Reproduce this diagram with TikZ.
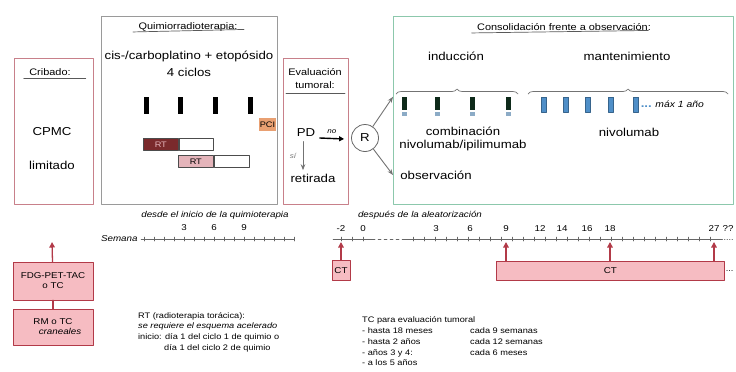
\documentclass[tikz,border=0pt]{standalone}
\usepackage{fontspec}
\setmainfont{Liberation Sans}[FakeStretch=1.15]
\usetikzlibrary{arrows.meta,decorations.pathreplacing,positioning}
\definecolor{PanelRed}{HTML}{C8808A}
\definecolor{PanelGrey}{HTML}{9A9A9A}
\definecolor{PanelGreen}{HTML}{8CC8AC}
\definecolor{ScanRed}{HTML}{B23A48}
\definecolor{ScanFill}{HTML}{F6BCC2}
\definecolor{RtDark}{HTML}{7A2A2C}
\definecolor{RtLight}{HTML}{E4B4BA}
\definecolor{PciOrange}{HTML}{E9A072}
\definecolor{DoseBlue}{HTML}{4F8FC8}
\definecolor{DoseGreen}{HTML}{0E2A1A}
\newcommand{\smalltxt}{\fontsize{8}{10.8}\selectfont}
\newcommand{\axistxt}{\fontsize{8.5}{10}\selectfont}
\newcommand{\titletxt}{\fontsize{9.5}{13}\selectfont}
\tikzset{
  panel/.style={draw=#1,line width=0.8pt,anchor=north west,inner sep=0pt},
  headline/.style={draw=black!65,line width=0.7pt},
  chemo/.style={fill=black,minimum width=5pt,minimum height=17pt,inner sep=0pt},
  ipi/.style={fill=DoseGreen,minimum width=5pt,minimum height=13pt,inner sep=0pt},
  nivo/.style={fill=DoseBlue,draw=DoseBlue!70!black,line width=0.3pt,minimum width=5pt,minimum height=15pt,inner sep=0pt},
  rtpart/.style={draw=black!70,line width=0.6pt,minimum height=12pt,inner sep=0pt,anchor=north west,font=\smalltxt},
  scan/.style={draw=ScanRed,fill=ScanFill,line width=0.6pt,inner sep=0pt,font=\axistxt},
  scanarrow/.style={ScanRed,line width=1.3pt,-{Triangle[width=5.5pt,length=5.5pt]}},
  greyarrow/.style={black!55,line width=0.9pt,-{Stealth[length=6pt]}},
  axistick/.style={black!60,line width=0.5pt},
  notetext/.style={font=\smalltxt,anchor=north west,inner sep=0pt,align=left}
}
\begin{document}
\begin{tikzpicture}[x=1pt,y=-1pt,line cap=round,line join=round,font=\fontsize{11.5}{13.5}\selectfont]
  \useasboundingbox (0,0) rectangle (736,372);

  % panels
  \node[panel=PanelRed,minimum width=79pt,minimum height=146pt] (crib) at (14,58) {};
  \node[panel=PanelGrey,minimum width=176pt,minimum height=188pt] (quim) at (101,16) {};
  \node[panel=PanelRed,minimum width=65pt,minimum height=146pt] (eval) at (283,58) {};
  \node[panel=PanelGreen,minimum width=340pt,minimum height=188pt] (cons) at (393,16) {};

  % cribado
  \node[font=\titletxt] (cribT) at (50,72) {Cribado:};
  \draw[headline] ([xshift=-2pt]cribT.base west) ++(0,2.5) -- ++(62,0);
  \node (cpmc) at (52,132) {CPMC};
  \node (lim) at (52,165) {limitado};

  % quimiorradioterapia
  \node[font=\titletxt] (quimT) at (188,27) {Quimiorradioterapia:};
  \draw[headline] ([xshift=-2pt]quimT.base west) ++(0,2.5) -- ([xshift=3pt]quimT.base east) ++(0,2.5);
  \node (chemoT) at (189,56) {cis-/carboplatino + etopósido};
  \node (cyc) at (189,72) {4 ciclos};
  \foreach \x [count=\i] in {146,180,215,250}
    \node[chemo] (c\i) at (\x,105.5) {};
  \node[scan,draw=none,fill=PciOrange,minimum width=17pt,minimum height=13pt,font=\smalltxt] (pci) at (267.5,124.5) {PCI};
  \node[rtpart,fill=RtDark,text=RtLight,minimum width=35pt] (rtA) at (143,138) {RT};
  \node[rtpart,fill=white,minimum width=34pt,anchor=west] (rtAr) at (rtA.east) {};
  \node[rtpart,fill=RtLight,minimum width=35pt] (rtB) at (178,155) {RT};
  \node[rtpart,fill=white,minimum width=35pt,anchor=west] (rtBr) at (rtB.east) {};

  % evaluacion tumoral
  \node[align=center,font=\titletxt] (evalT) at (315,79) {Evaluación\\tumoral:};
  \draw[headline] (286,93) -- (345,93);
  \node (pd) at (306,133) {PD};
  \node (ret) at (313,178) {retirada};
  \node[circle,draw=black!60,line width=0.8pt,minimum size=27pt,inner sep=0pt] (R) at (365,138) {R};
  \draw[line width=1.4pt,-{Triangle[width=5pt,length=5pt]}] (pd.east) ++(1,5) -- ([xshift=-7pt,yshift=-1pt]R.west) node[midway,above=1pt,font=\itshape\fontsize{7}{8}\selectfont] {no};
  \draw[greyarrow] ([xshift=-3pt,yshift=-1pt]pd.south) -- ([xshift=-10pt]ret.north) node[midway,left=3pt,font=\itshape\fontsize{7}{8}\selectfont] {sí};

  % consolidacion
  \node[font=\titletxt] (consT) at (564,27) {Consolidación frente a observación:};
  \draw[headline] ([xshift=-2pt]consT.base west) ++(0,2.5) -- ([xshift=-6pt]consT.base east) ++(0,2.5);
  \node (ind) at (456,56) {inducción};
  \node (mant) at (627,56) {mantenimiento};
  \draw[black!55,line width=0.7pt,decorate,decoration={brace,amplitude=5pt}] (396,94) -- (518,94);
  \draw[black!55,line width=0.7pt,decorate,decoration={brace,amplitude=5pt}] (528,94) -- (728,94);
  \foreach \x [count=\i] in {404,437,472,508}{
    \node[ipi] (ip\i) at (\x,103.5) {};
    \fill[DoseBlue!80!black!60] (\x-2.5,112) rectangle (\x+2.5,115.5);
  }
  \foreach \x [count=\i] in {544,566,588,611,636}
    \node[nivo] (nv\i) at (\x,104.5) {};
  \node[anchor=west,inner sep=0pt] (max) at (nv5.east) {\,\textcolor{DoseBlue}{\textbf{...}}\ \textit{\fontsize{9}{10}\selectfont máx 1 año}};
  \node[align=center] (comb) at (463,139) {combinación\\nivolumab/ipilimumab};
  \node (nivoT) at (629,132) {nivolumab};
  \node (obs) at (436,175) {observación};
  \draw[greyarrow] (R) -- (cons.west |- ip1.north);
  \draw[greyarrow] (R) -- (cons.west |- obs);

  % linea temporal de quimioterapia
  \node[font=\itshape\axistxt] (desde) at (215,215) {desde el inicio de la quimioterapia};
  \node[font=\itshape\axistxt,anchor=east] (sem) at (141,239) {Semana};
  \draw[axistick] (sem.east) -- (294,239);
  \foreach \k in {-1,...,14}
    \draw[axistick] (154+10*\k,237) -- (154+10*\k,241);
  \foreach \k in {3,6,9}
    \node[font=\axistxt] (wq\k) at (154+10*\k,228) {\k};

  % linea temporal tras aleatorizacion
  \node[font=\itshape\axistxt] (desp) at (420,215) {después de la aleatorización};
  \coordinate (axA) at (333,239);
  \coordinate (axB) at (372,239);
  \coordinate (axC) at (405,239);
  \coordinate (axD) at (722,239);
  \coordinate (axE) at (734,239);
  \draw[axistick] (axA) -- (axB);
  \draw[axistick,dashed] (axB) -- (axC);
  \draw[axistick] (axC) -- (axD);
  \draw[axistick,dotted,line width=0.8pt] (axD) -- (axE);
  \foreach \x in {341,352,363,413,424,...,720}
    \draw[axistick] (\x,237) -- (\x,241);
  \foreach \x/\w in {341/-2,363/0,436/3,470/6,506/9,540/12,562/14,587/16,610/18,714/27,728/??}
    \node[font=\axistxt] at (\x,229) {\w};
  \coordinate (wm2) at (341,242);
  \coordinate (w9) at (506,242);
  \coordinate (w18) at (610,242);
  \coordinate (w27) at (714,242);
  \coordinate (wcr) at (52,242);

  % TC / pruebas
  \node[scan,minimum width=18pt,minimum height=20pt] (ctS) at (341,270.5) {CT};
  \node[scan,minimum width=228pt,minimum height=19pt,anchor=north west] (ctL) at (496,261) {CT};
  \node[font=\smalltxt,anchor=west,inner sep=1pt] (ctDots) at (ctL.east) {...};
  \node[scan,minimum width=80pt,minimum height=38pt,align=center] (fdg) at (53,281) {FDG-PET-TAC\\o TC};
  \node[scan,minimum width=80pt,minimum height=36pt,align=center] (rm) at (53,327) {RM o TC\\\hspace*{14pt}\textit{craneales}};
  \draw[ScanRed,line width=1.3pt] (fdg) -- (rm);
  \draw[scanarrow] (fdg) -- (wcr);
  \draw[scanarrow] (ctS) -- (wm2);
  \draw[scanarrow] (ctL.north -| w9) -- (w9);
  \draw[scanarrow] (ctL.north -| w18) -- (w18);
  \draw[scanarrow] (ctL.north -| w27) -- (w27);

  % notas
  \node[notetext] (rtNote) at (138,312) {RT (radioterapia torácica):\\
    \textit{se requiere el esquema acelerado}\\
    inicio: día 1 del ciclo 1 de quimio o\\
    \hspace*{26pt}día 1 del ciclo 2 de quimio};
  \node[notetext] (tcNote) at (362,315) {\begin{tabular}{@{}p{108pt}@{}l@{}}
    \multicolumn{2}{@{}l}{TC para evaluación tumoral}\\
    - hasta 18 meses & cada 9 semanas\\
    - hasta 2 años & cada 12 semanas\\
    - años 3 y 4: & cada 6 meses\\
    - a los 5 años &
  \end{tabular}};
\end{tikzpicture}
\end{document}
